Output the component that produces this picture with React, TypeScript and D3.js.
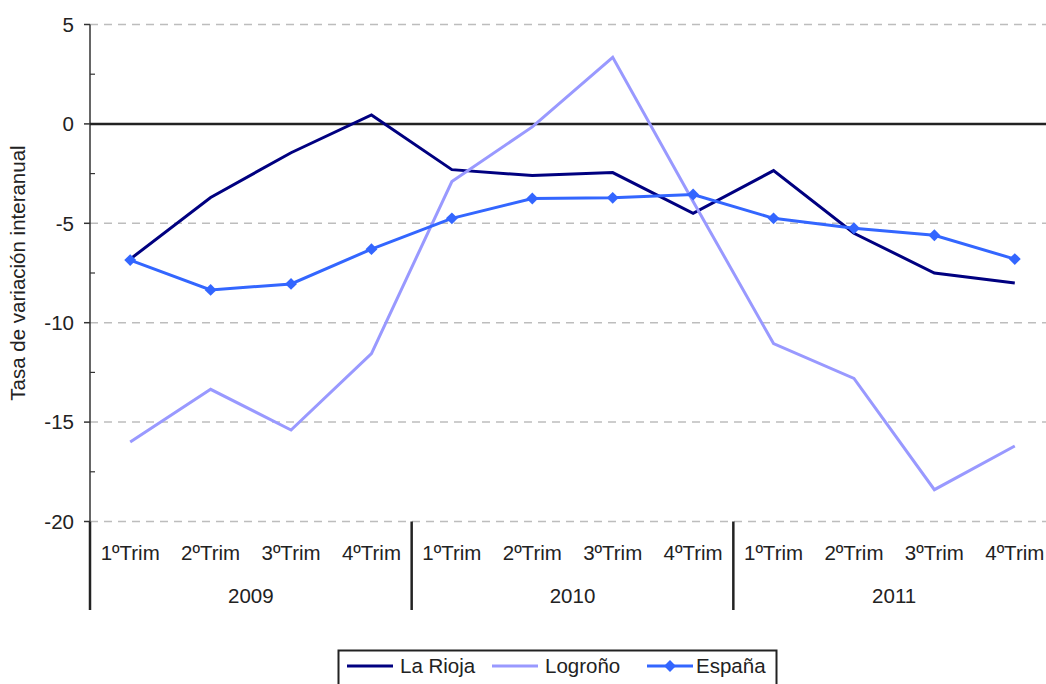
import * as d3 from 'd3';

const quarters = ['1ºTrim', '2ºTrim', '3ºTrim', '4ºTrim'];
const years = ['2009', '2010', '2011'];

const laRioja = [-6.8, -3.7, -1.45, 0.45, -2.3, -2.6, -2.45, -4.5, -2.35, -5.5, -7.5, -8.0];
const logrono = [-16.0, -13.35, -15.4, -11.55, -2.9, -0.15, 3.35, -3.9, -11.05, -12.8, -18.4, -16.2];
const espana = [-6.85, -8.35, -8.05, -6.3, -4.75, -3.75, -3.72, -3.55, -4.75, -5.25, -5.6, -6.8];

const yTicks = [5, 0, -5, -10, -15, -20];
const minorTicks = [2.5, -2.5, -7.5, -12.5, -17.5];

const seriesList = [
  { name: 'La Rioja', values: laRioja, color: '#000080', marker: false },
  { name: 'Logroño', values: logrono, color: '#9999FF', marker: false },
  { name: 'España', values: espana, color: '#3366FF', marker: true },
];

const W = 1046;
const H = 684;
const font = '"Liberation Sans", Arial, Helvetica, sans-serif';

export default function App() {
  const margin = { left: 90, right: 1055, top: 24.5, bottom: 521.5 };

  // one slot per quarter of every year
  const slots = years.flatMap((yr) => quarters.map((q) => `${yr}-${q}`));

  const x = d3.scaleBand<string>().domain(slots).range([margin.left, margin.right]);
  const xYear = d3.scaleBand<string>().domain(years).range([margin.left, margin.right]);
  const y = d3.scaleLinear().domain([-20, 5]).range([margin.bottom, margin.top]);

  const cx = (i: number) => (x(slots[i]) as number) + x.bandwidth() / 2;

  const line = d3
    .line<number>()
    .x((_, i) => cx(i))
    .y((d) => y(d));

  const diamond = d3.symbol().type(d3.symbolDiamond2).size(90)();

  // legend layout
  const legendItems = [
    { ...seriesList[0], x: 347, tx: 400 },
    { ...seriesList[1], x: 492, tx: 545 },
    { ...seriesList[2], x: 647, tx: 696 },
  ];

  return (
    <svg
      width={W}
      height={H}
      style={{ position: 'absolute', left: 0, top: 0, background: '#fff' }}
      fontFamily={font}
    >
      {/* gridlines */}
      {yTicks
        .filter((t) => t !== 0)
        .map((t) => (
          <line
            key={'g' + t}
            x1={margin.left}
            x2={W}
            y1={y(t)}
            y2={y(t)}
            stroke="#bdbdbd"
            strokeWidth={1.5}
            strokeDasharray="8,6"
          />
        ))}

      {/* y axis */}
      <line x1={margin.left} x2={margin.left} y1={y(5)} y2={y(-20)} stroke="#333" strokeWidth={1.5} />
      {yTicks.map((t) => (
        <g key={'t' + t}>
          <line x1={margin.left - 6} x2={margin.left} y1={y(t)} y2={y(t)} stroke="#333" strokeWidth={1.5} />
          <text x={74} y={y(t)} dy="0.36em" textAnchor="end" fontSize={20.5} fill="#222">
            {t}
          </text>
        </g>
      ))}
      {minorTicks.map((t) => (
        <line key={'m' + t} x1={margin.left} x2={margin.left + 5} y1={y(t)} y2={y(t)} stroke="#333" strokeWidth={1.2} />
      ))}

      {/* zero line */}
      <line x1={margin.left} x2={W} y1={y(0)} y2={y(0)} stroke="#222" strokeWidth={2.5} />

      {/* category axis */}
      {years.map((yr) => {
        const x0 = xYear(yr) as number;
        return (
          <g key={yr}>
            <line x1={x0} x2={x0} y1={y(-20)} y2={610} stroke="#222" strokeWidth={2.5} />
            <text x={x0 + xYear.bandwidth() / 2} y={603} textAnchor="middle" fontSize={20.5} fill="#222">
              {yr}
            </text>
          </g>
        );
      })}
      {slots.map((s, i) => (
        <text key={s} x={cx(i)} y={560} textAnchor="middle" fontSize={20.5} fill="#222">
          {quarters[i % 4]}
        </text>
      ))}

      {/* y axis title */}
      <text
        transform={`translate(25, ${(margin.top + margin.bottom) / 2}) rotate(-90)`}
        textAnchor="middle"
        fontSize={20.5}
        fill="#222"
      >
        Tasa de variación interanual
      </text>

      {/* series */}
      {seriesList.map((s) => (
        <g key={s.name}>
          <path d={line(s.values) as string} fill="none" stroke={s.color} strokeWidth={3} strokeLinejoin="miter" />
          {s.marker &&
            s.values.map((v, i) => (
              <path key={i} d={diamond as string} transform={`translate(${cx(i)}, ${y(v)})`} fill={s.color} />
            ))}
        </g>
      ))}

      {/* legend */}
      <rect x={338.5} y={650.5} width={438} height={40} fill="#fff" stroke="#222" strokeWidth={2} />
      {legendItems.map((it) => (
        <g key={it.name}>
          <line x1={it.x} x2={it.x + 46} y1={666} y2={666} stroke={it.color} strokeWidth={3} />
          {it.marker && <path d={diamond as string} transform={`translate(${it.x + 23}, 666)`} fill={it.color} />}
          <text x={it.tx} y={673} fontSize={20.5} fill="#222">
            {it.name}
          </text>
        </g>
      ))}
    </svg>
  );
}
